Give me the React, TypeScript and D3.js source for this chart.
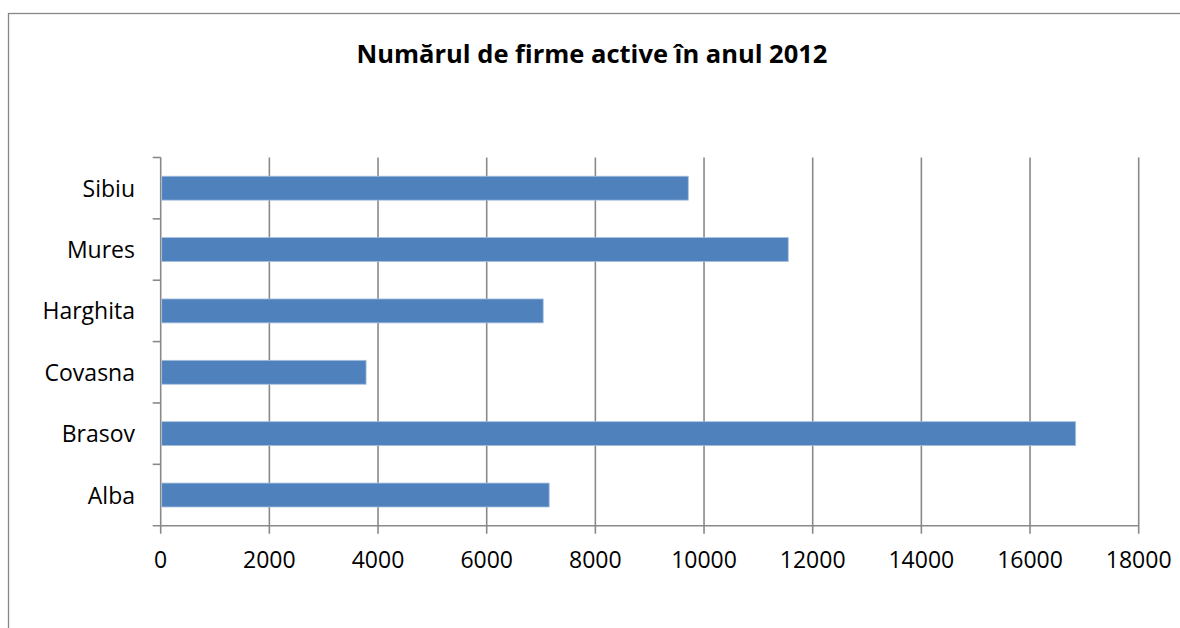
import { useEffect, useRef } from "react";
import * as d3 from "d3";

const title = "Numărul de firme active în anul 2012";
const judete = ["Sibiu", "Mures", "Harghita", "Covasna", "Brasov", "Alba"];
const firme = [9710, 11550, 7040, 3780, 16840, 7150];
const xTicks = [0, 2000, 4000, 6000, 8000, 10000, 12000, 14000, 16000, 18000];

function App() {
  const svgRef = useRef<SVGSVGElement>(null);

  useEffect(() => {
    const width = 1180;
    const height = 628;
    const plot = { left: 160.7, right: 1138.7, top: 157.5, bottom: 525.7 };
    const gridColor = "#898989";
    const font = "'Open Sans', sans-serif";

    const svg = d3.select(svgRef.current).attr("width", width).attr("height", height);
    svg.selectAll("*").remove();

    // chart area border (runs off the right/bottom edge)
    svg
      .append("rect")
      .attr("x", 8.5)
      .attr("y", 13.5)
      .attr("width", 1200)
      .attr("height", 700)
      .attr("fill", "white")
      .attr("stroke", "#878787")
      .attr("stroke-width", 1.3);

    svg
      .append("text")
      .attr("x", 592)
      .attr("y", 63)
      .attr("text-anchor", "middle")
      .style("font-family", font)
      .style("font-weight", "bold")
      .style("font-size", "25.5px")
      .text(title);

    const x = d3.scaleLinear().domain([0, 18000]).range([plot.left, plot.right]);
    const y = d3.scaleBand().domain(judete).range([plot.top, plot.bottom]).padding(0);
    const barH = y.bandwidth() * 0.39;

    // vertical gridlines
    svg
      .append("g")
      .selectAll("line")
      .data(xTicks)
      .join("line")
      .attr("x1", (d) => x(d))
      .attr("x2", (d) => x(d))
      .attr("y1", plot.top)
      .attr("y2", plot.bottom + 8)
      .attr("stroke", gridColor)
      .attr("stroke-width", 1.6);

    // horizontal axis line
    svg
      .append("line")
      .attr("x1", plot.left - 8)
      .attr("x2", plot.right)
      .attr("y1", plot.bottom)
      .attr("y2", plot.bottom)
      .attr("stroke", gridColor)
      .attr("stroke-width", 1.6);

    // category ticks on left axis
    const boundaries = judete.map((d) => y(d) as number);
    svg
      .append("g")
      .selectAll("line")
      .data(boundaries)
      .join("line")
      .attr("x1", plot.left - 8)
      .attr("x2", plot.left)
      .attr("y1", (d) => d)
      .attr("y2", (d) => d)
      .attr("stroke", gridColor)
      .attr("stroke-width", 1.6);

    svg
      .append("g")
      .selectAll("rect")
      .data(judete)
      .join("rect")
      .attr("x", x(0) + 1)
      .attr("y", (d) => (y(d) as number) + (y.bandwidth() - barH) / 2)
      .attr("width", (d, i) => x(firme[i]) - x(0) - 1)
      .attr("height", barH)
      .attr("fill", "#4F81BD")
      .attr("stroke", "#A7C0DE")
      .attr("stroke-width", 0.8);

    svg
      .append("g")
      .selectAll("text")
      .data(judete)
      .join("text")
      .attr("x", 135)
      .attr("y", (d) => (y(d) as number) + y.bandwidth() / 2 + 8.5)
      .attr("text-anchor", "end")
      .style("font-family", font)
      .style("font-size", "23px")
      .text((d) => d);

    svg
      .append("g")
      .selectAll("text")
      .data(xTicks)
      .join("text")
      .attr("x", (d) => x(d))
      .attr("y", 568)
      .attr("text-anchor", "middle")
      .style("font-family", font)
      .style("font-size", "23px")
      .text((d) => String(d));
  }, []);

  return (
    <div style={{ position: "absolute", left: 0, top: 0 }}>
      <svg ref={svgRef} style={{ display: "block" }}></svg>
    </div>
  );
}

export default App;
